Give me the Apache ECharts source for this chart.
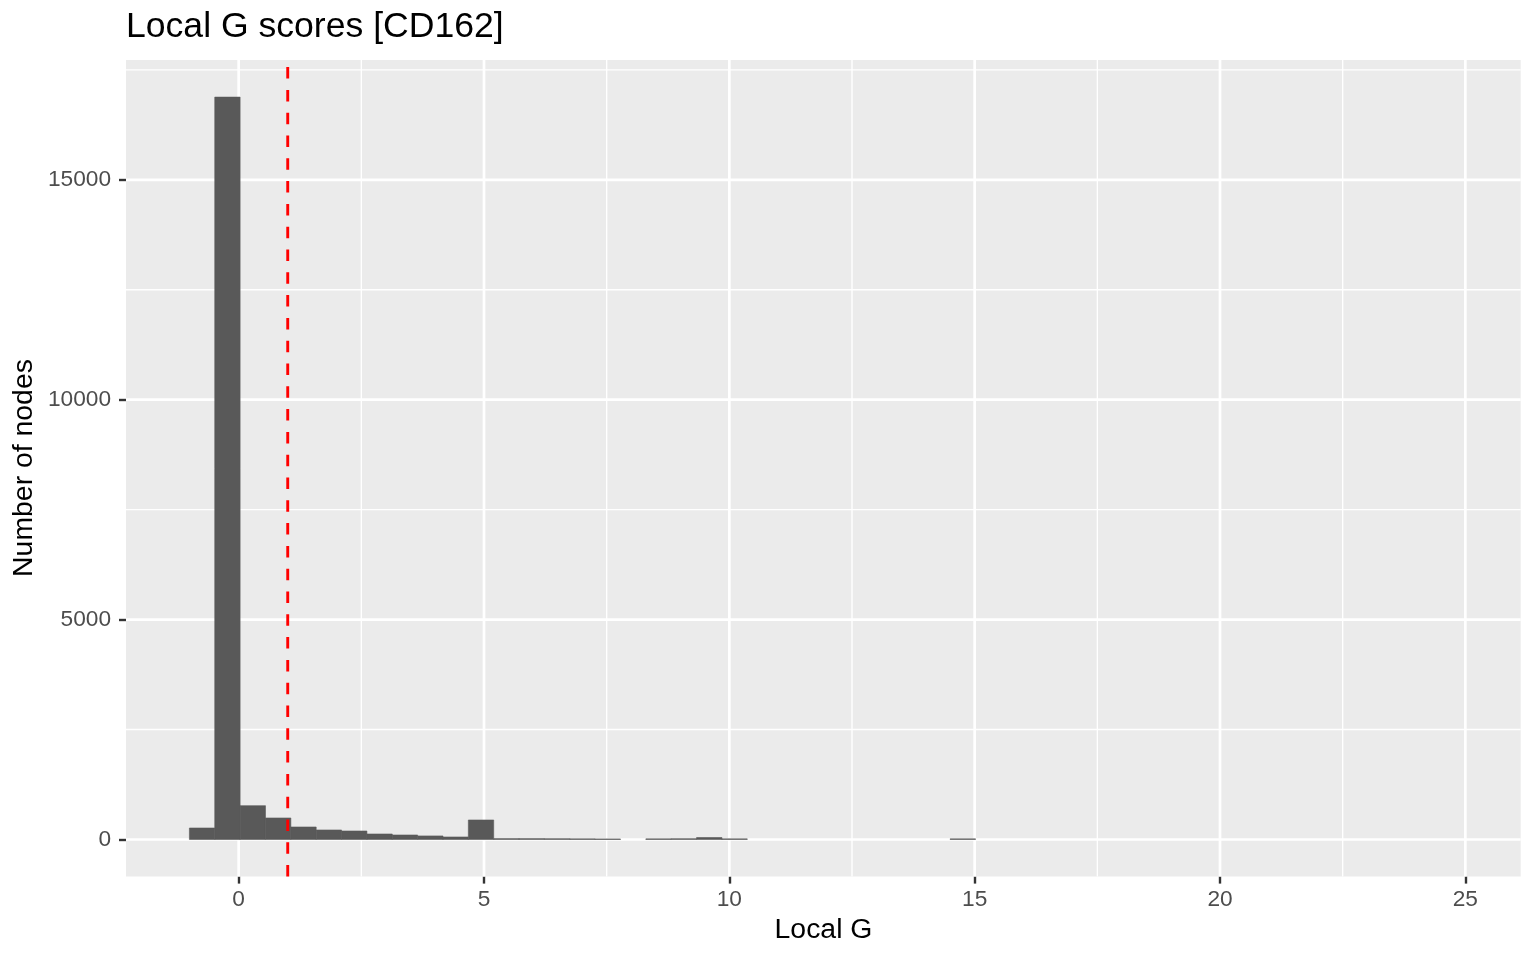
<!DOCTYPE html>
<html>
<head>
<meta charset="utf-8">
<script src="https://cdn.jsdelivr.net/npm/echarts@6/dist/echarts.min.js"></script>
<style>
html,body{margin:0;padding:0;background:#fff;}
#chart{width:1536px;height:960px;}
</style>
</head>
<body>
<div id="chart"></div>
<script>
// ---- data ----
const titleText = 'Local G scores [CD162]';
const xTitle = 'Local G';
const yTitle = 'Number of nodes';
const binStart = -1.004;      // left edge of first bin
const binWidth = 0.5168;      // histogram bin width
const counts = [
  261, 16880, 768, 489, 284, 216, 193, 125, 102, 80,
  57, 443, 20, 20, 18, 15, 12, 0, 15, 18,
  45, 15, 0, 0, 0, 0, 0, 0, 0, 0,
  15, 0, 0, 0, 0, 0, 0, 0, 0, 0,
  0, 0, 0, 0, 0, 0, 0, 0, 0, 0
];
const xTicks = [0, 5, 10, 15, 20, 25];
const xMinor = [2.5, 7.5, 12.5, 17.5, 22.5];
const yTicks = [0, 5000, 10000, 15000];
const yMinor = [2500, 7500, 12500, 17500];
const threshold = 1;

// ggplot-style 5% expansion
const nBins = counts.length;
const xSpan = nBins * binWidth;
const xMin = binStart - 0.05 * xSpan;
const xMax = binStart + xSpan + 0.05 * xSpan;
const maxCount = Math.max.apply(null, counts);
const yMin = -0.05 * maxCount;
const yMax = 1.05 * maxCount;

const bins = counts.map((c, i) => [binStart + i * binWidth, binStart + (i + 1) * binWidth, c]);

const FONT = 'Liberation Sans';

function vGrid(width) {
  return function (params, api) {
    const cs = params.coordSys;
    const x = api.coord([api.value(0), 0])[0];
    return {type: 'line', shape: {x1: x, y1: cs.y, x2: x, y2: cs.y + cs.height},
      style: {stroke: '#FFFFFF', lineWidth: width}};
  };
}
function hGrid(width) {
  return function (params, api) {
    const cs = params.coordSys;
    const y = api.coord([0, api.value(0)])[1];
    return {type: 'line', shape: {x1: cs.x, y1: y, x2: cs.x + cs.width, y2: y},
      style: {stroke: '#FFFFFF', lineWidth: width}};
  };
}

const chart = echarts.init(document.getElementById('chart'), null, {renderer: 'canvas'});
const option = {
  animation: false,
  backgroundColor: '#FFFFFF',
  grid: {left: 126, top: 60, right: 15.3, bottom: 83.4, show: true,
    backgroundColor: '#EBEBEB', borderWidth: 0, containLabel: false},
  xAxis: {
    type: 'value', min: xMin, max: xMax,
    axisLine: {show: false, onZero: false},
    axisTick: {show: true, customValues: xTicks, length: 7, lineStyle: {color: '#333333', width: 2.4}},
    axisLabel: {customValues: xTicks, fontSize: 22.7, color: '#4D4D4D', margin: 12, fontFamily: FONT,
      formatter: v => String(v)},
    splitLine: {show: false}
  },
  yAxis: {
    type: 'value', min: yMin, max: yMax,
    axisLine: {show: false, onZero: false},
    axisTick: {show: true, customValues: yTicks, length: 7, lineStyle: {color: '#333333', width: 2.4}},
    axisLabel: {customValues: yTicks, fontSize: 22.7, color: '#4D4D4D', margin: 15, fontFamily: FONT,
      formatter: v => String(v)},
    splitLine: {show: false}
  },
  graphic: [
    {type: 'text', left: 126, top: 9, style: {text: titleText, fontSize: 35.6, fontFamily: FONT, fill: '#000000'}},
    {type: 'text', x: 823.5, y: 930, style: {text: xTitle, fontSize: 28.4, fontFamily: FONT, fill: '#000000', align: 'center', verticalAlign: 'middle'}},
    {type: 'text', x: 24, y: 468, rotation: Math.PI / 2, style: {text: yTitle, fontSize: 28.4, fontFamily: FONT, fill: '#000000', align: 'center', verticalAlign: 'middle'}}
  ],
  series: [
    {type: 'custom', z: 1, silent: true, data: xMinor.map(v => [v]), encode: {x: 0}, renderItem: vGrid(1.35)},
    {type: 'custom', z: 1, silent: true, data: yMinor.map(v => [v]), encode: {y: 0}, renderItem: hGrid(1.35)},
    {type: 'custom', z: 1, silent: true, data: xTicks.map(v => [v]), encode: {x: 0}, renderItem: vGrid(2.7)},
    {type: 'custom', z: 1, silent: true, data: yTicks.map(v => [v]), encode: {y: 0}, renderItem: hGrid(2.7)},
    {
      type: 'custom', z: 2, silent: true, data: bins, encode: {x: [0, 1], y: 2},
      renderItem: function (params, api) {
        const p0 = api.coord([api.value(0), api.value(2)]);
        const p1 = api.coord([api.value(1), 0]);
        if (api.value(2) <= 0) return null;
        return {type: 'rect', shape: {x: p0[0], y: p0[1], width: p1[0] - p0[0], height: p1[1] - p0[1]},
          style: {fill: '#595959', stroke: '#595959', lineWidth: 0.6}};
      }
    },
    {
      type: 'line', z: 3, silent: true, symbol: 'none',
      data: [[threshold, yMin], [threshold, yMax]],
      lineStyle: {color: '#FF0000', width: 2.9, type: [11.5, 11.3]}
    }
  ]
};
chart.setOption(option);
</script>
</body>
</html>
